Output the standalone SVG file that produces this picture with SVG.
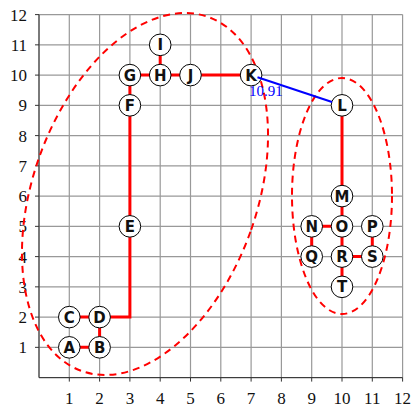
<svg xmlns="http://www.w3.org/2000/svg" width="414" height="408" viewBox="0 0 414 408">
<style>
.grid{stroke:#999;stroke-width:1.2;fill:none}
.tick{stroke:#333;stroke-width:1;fill:none}
.ax{font-family:"Liberation Serif","Times New Roman",serif;font-size:17px;fill:#111}
.hull{fill:none;stroke:#ff0000;stroke-width:2;stroke-dasharray:7,5}
.e{stroke:#ff0000;stroke-width:3;fill:none}
.n circle{fill:#fff;stroke:#000;stroke-width:1}
.n text{font-family:"DejaVu Sans",sans-serif;font-weight:bold;font-size:15px;text-anchor:middle;fill:#111}
</style>
<rect width="414" height="408" fill="#fff"/>
<g id="grid">
<path class="grid" d="M39,14.6V377.6M69.3,14.6V377.6M99.6,14.6V377.6M129.9,14.6V377.6M160.2,14.6V377.6M190.5,14.6V377.6M220.8,14.6V377.6M251.1,14.6V377.6M281.4,14.6V377.6M311.7,14.6V377.6M342,14.6V377.6M372.3,14.6V377.6M402.6,14.6V377.6"/>
<path class="grid" d="M39,377.6H402.6M39,347.35H402.6M39,317.1H402.6M39,286.85H402.6M39,256.6H402.6M39,226.35H402.6M39,196.1H402.6M39,165.85H402.6M39,135.6H402.6M39,105.35H402.6M39,75.1H402.6M39,44.85H402.6M39,14.6H402.6"/>
<path class="tick" d="M39,14.6V377.6H402.6"/>
<path class="tick" d="M35,347.35H39M35,317.1H39M35,286.85H39M35,256.6H39M35,226.35H39M35,196.1H39M35,165.85H39M35,135.6H39M35,105.35H39M35,75.1H39M35,44.85H39M35,14.6H39"/>
<path class="tick" d="M69.3,377.6V381.6M99.6,377.6V381.6M129.9,377.6V381.6M160.2,377.6V381.6M190.5,377.6V381.6M220.8,377.6V381.6M251.1,377.6V381.6M281.4,377.6V381.6M311.7,377.6V381.6M342,377.6V381.6M372.3,377.6V381.6M402.6,377.6V381.6"/>
<g class="ax" text-anchor="end">
<text x="27" y="353.3">1</text><text x="27" y="323.1">2</text><text x="27" y="292.8">3</text><text x="27" y="262.6">4</text><text x="27" y="232.3">5</text><text x="27" y="202.1">6</text><text x="27" y="171.8">7</text><text x="27" y="141.6">8</text><text x="27" y="111.3">9</text><text x="27" y="81.1">10</text><text x="27" y="50.8">11</text><text x="27" y="20.6">12</text>
</g>
<g class="ax" text-anchor="middle">
<text x="69.3" y="404">1</text><text x="99.6" y="404">2</text><text x="129.9" y="404">3</text><text x="160.2" y="404">4</text><text x="190.5" y="404">5</text><text x="220.8" y="404">6</text><text x="251.1" y="404">7</text><text x="281.4" y="404">8</text><text x="311.7" y="404">9</text><text x="342" y="404">10</text><text x="372.3" y="404">11</text><text x="402.6" y="404" text-anchor="end" dx="8.5">12</text>
</g>
</g>
<g id="clusters">
<ellipse class="hull" cx="145" cy="194" rx="112" ry="188" transform="rotate(19.7 145 194)"/>
<ellipse class="hull" cx="342" cy="196" rx="50" ry="118"/>
</g>
<g id="connectors">
<path class="e" d="M69.3,347.35H99.6M69.3,317.1H99.6M99.6,347.35V317.1"/>
<path class="e" d="M99.6,317.1H129.9V226.35"/>
<path class="e" d="M129.9,226.35V105.35V75.1H190.5H251.1M160.2,75.1V44.85"/>
<path class="e" d="M342,105.35V196.1V226.35V286.85M311.7,226.35H342M311.7,226.35V256.6M342,256.6H372.3M372.3,226.35V256.6"/>
</g>
<g id="A" class="n"><circle cx="69.3" cy="347.35" r="10.8"/><text x="69.3" y="352.8">A</text></g>
<g id="B" class="n"><circle cx="99.6" cy="347.35" r="10.8"/><text x="99.6" y="352.8">B</text></g>
<g id="C" class="n"><circle cx="69.3" cy="317.1" r="10.8"/><text x="69.3" y="322.5">C</text></g>
<g id="D" class="n"><circle cx="99.6" cy="317.1" r="10.8"/><text x="99.6" y="322.5">D</text></g>
<g id="E" class="n"><circle cx="129.9" cy="226.35" r="10.8"/><text x="129.9" y="231.8">E</text></g>
<g id="F" class="n"><circle cx="129.9" cy="105.35" r="10.8"/><text x="129.9" y="110.8">F</text></g>
<g id="G" class="n"><circle cx="129.9" cy="75.1" r="10.8"/><text x="129.9" y="80.5">G</text></g>
<g id="H" class="n"><circle cx="160.2" cy="75.1" r="10.8"/><text x="160.2" y="80.5">H</text></g>
<g id="I" class="n"><circle cx="160.2" cy="44.85" r="10.8"/><text x="160.2" y="50.3">I</text></g>
<g id="J" class="n"><circle cx="190.5" cy="75.1" r="10.8"/><text x="190.5" y="80.5">J</text></g>
<g id="K" class="n"><circle cx="251.1" cy="75.1" r="10.8"/><text x="251.1" y="80.5">K</text></g>
<g id="L" class="n"><circle cx="342" cy="105.35" r="10.8"/><text x="342" y="110.8">L</text></g>
<g id="M" class="n"><circle cx="342" cy="196.1" r="10.8"/><text x="342" y="201.5">M</text></g>
<g id="N" class="n"><circle cx="311.7" cy="226.35" r="10.8"/><text x="311.7" y="231.8">N</text></g>
<g id="O" class="n"><circle cx="342" cy="226.35" r="10.8"/><text x="342" y="231.8">O</text></g>
<g id="P" class="n"><circle cx="372.3" cy="226.35" r="10.8"/><text x="372.3" y="231.8">P</text></g>
<g id="Q" class="n"><circle cx="311.7" cy="256.6" r="10.8"/><text x="311.7" y="262">Q</text></g>
<g id="R" class="n"><circle cx="342" cy="256.6" r="10.8"/><text x="342" y="262">R</text></g>
<g id="S" class="n"><circle cx="372.3" cy="256.6" r="10.8"/><text x="372.3" y="262">S</text></g>
<g id="T" class="n"><circle cx="342" cy="286.85" r="10.8"/><text x="342" y="292.3">T</text></g>
<g id="distance">
<line x1="257.5" y1="77.2" x2="332" y2="102" stroke="#0000ff" stroke-width="2"/>
<text x="249" y="95.5" font-family="Liberation Serif, serif" font-size="15" fill="#0000ff">10.91</text>
</g>
</svg>
